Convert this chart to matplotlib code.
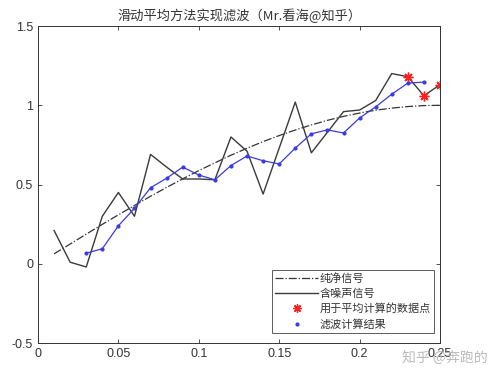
import matplotlib
matplotlib.use("Agg")
import matplotlib.pyplot as plt
from matplotlib.lines import Line2D

plt.rcParams['font.family'] = ['Liberation Sans', 'Noto Sans CJK SC', 'DejaVu Sans']

t = [0.01, 0.02, 0.03, 0.04, 0.05, 0.06, 0.07, 0.08, 0.09, 0.10, 0.11, 0.12, 0.13,
     0.14, 0.15, 0.16, 0.17, 0.18, 0.19, 0.20, 0.21, 0.22, 0.23, 0.24, 0.25]
pure = [0.063, 0.125, 0.187, 0.249, 0.309, 0.368, 0.426, 0.482, 0.536, 0.588, 0.637,
        0.685, 0.729, 0.771, 0.809, 0.844, 0.876, 0.905, 0.930, 0.951, 0.969, 0.982,
        0.992, 0.998, 1.000]
noisy = [0.21, 0.01, -0.02, 0.30, 0.45, 0.30, 0.69, 0.61, 0.535, 0.535, 0.53, 0.80,
         0.71, 0.44, 0.73, 1.02, 0.70, 0.83, 0.96, 0.97, 1.03, 1.20, 1.18, 1.06, 1.13]
used_t = [0.23, 0.24, 0.25]
used_v = [1.18, 1.06, 1.13]
filt_t = [0.03, 0.04, 0.05, 0.06, 0.07, 0.08, 0.09, 0.10, 0.11, 0.12, 0.13, 0.14,
          0.15, 0.16, 0.17, 0.18, 0.19, 0.20, 0.21, 0.22, 0.23, 0.24]
filt_v = [0.067, 0.095, 0.24, 0.35, 0.48, 0.54, 0.61, 0.56, 0.53, 0.62, 0.68, 0.65,
          0.63, 0.73, 0.82, 0.845, 0.825, 0.92, 0.99, 1.07, 1.14, 1.146]

labels = ['纯净信号', '含噪声信号', '用于平均计算的数据点', '滤波计算结果']
title = '滑动平均方法实现滤波（Mr.看海@知乎）'

pure_c = '#333333'
noisy_c = '#3a3a3a'
star_c = '#ff2020'
filt_c = '#3b3be0'
star_m = (8, 2, 0)

fig = plt.figure(figsize=(5.0, 3.77), dpi=100)
ax = fig.add_axes([0.076, 0.090, 0.804, 0.841])

ax.plot(t, pure, linestyle='-.', color=pure_c, lw=0.9)
ax.plot(t, noisy, linestyle='-', color=noisy_c, lw=1.0)
ax.plot(used_t, used_v, linestyle='none', marker=star_m, color=star_c, ms=7, mew=1.0)
ax.plot(filt_t, filt_v, linestyle='-', color=filt_c, lw=0.9, marker='.', ms=4)

ax.set_xlim(0, 0.25)
ax.set_ylim(-0.5, 1.5)
ax.set_xticks([0, 0.05, 0.1, 0.15, 0.2, 0.25])
ax.set_xticklabels(['0', '0.05', '0.1', '0.15', '0.2', '0.25'])
ax.set_yticks([-0.5, 0, 0.5, 1, 1.5])
ax.set_yticklabels(['-0.5', '0', '0.5', '1', '1.5'])
ax.tick_params(direction='in', top=True, right=True, length=3, labelsize=9,
               colors='#333333', width=0.6)
for s in ax.spines.values():
    s.set_color('#333333')
    s.set_linewidth(0.7)

ax.set_title(title, fontsize=9.5, color='#333333', pad=4,
             family=['Noto Sans CJK SC', 'DejaVu Sans'])

handles = [
    Line2D([], [], linestyle='-.', color=pure_c, lw=0.9),
    Line2D([], [], linestyle='-', color=noisy_c, lw=1.0),
    Line2D([], [], linestyle='none', marker=star_m, color=star_c, ms=6, mew=1.0),
    Line2D([], [], linestyle='none', marker='.', color=filt_c, ms=4),
]
leg = ax.legend(handles, labels, loc='lower right', bbox_to_anchor=(1.0, 0.015),
                prop={'family': ['Noto Sans CJK SC', 'DejaVu Sans'], 'size': 8},
                frameon=True, fancybox=False, edgecolor='#333333',
                handlelength=3.8, borderpad=0.3, labelspacing=0.4, handletextpad=0.2)
leg.get_frame().set_linewidth(0.7)
for txt in leg.get_texts():
    txt.set_color('#333333')

fig.text(0.975, 0.048, '知乎 @奔跑的', ha='right', va='center', fontsize=10,
         color='#bbbbbb', family=['Noto Sans CJK SC', 'DejaVu Sans'])

fig.savefig('out.png', dpi=100)
